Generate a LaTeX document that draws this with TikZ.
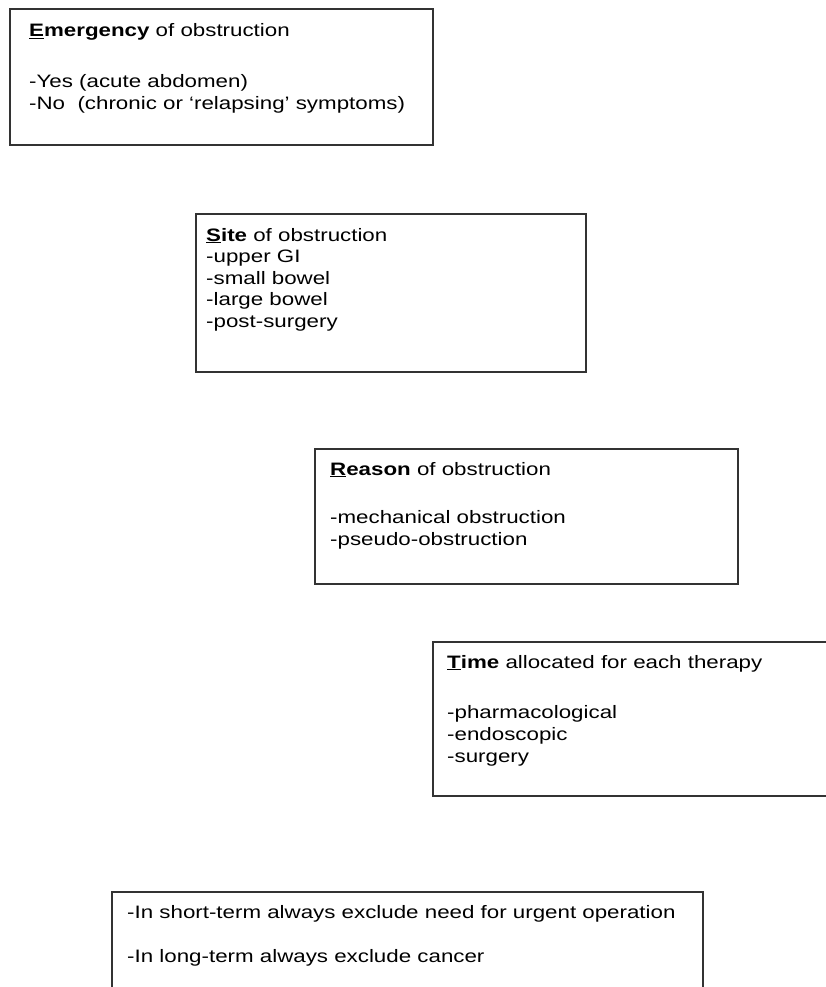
\documentclass[tikz,border=0pt]{standalone}
\usepackage{fontspec}
\setmainfont[FakeStretch=1.24]{Liberation Sans}
\usepackage{tikz}

\begin{document}
\begin{tikzpicture}[x=1pt, y=1pt,
  box/.style={draw=black!80, line width=1.2pt},
  txt/.style={anchor=base west, align=left, inner sep=0pt,
    font=\fontsize{18}{22}\selectfont}]
  \useasboundingbox (0,0) rectangle (826,-987);
  % emergency
  \draw[box] (10,-9) rectangle (433,-145);
  \node[txt] (emerg) at (29,-110) {\underline{\textbf{E}}\textbf{mergency} of obstruction\\[29pt]
    -Yes (acute abdomen)\\
    -No\ \ (chronic or `relapsing' symptoms)};
  % site
  \draw[box] (196,-214) rectangle (586,-372);
  \node[txt, font=\fontsize{18}{21.5}\selectfont] (site) at (206,-327) {\underline{\textbf{S}}\textbf{ite} of obstruction\\
    -upper GI\\
    -small bowel\\
    -large bowel\\
    -post-surgery};
  % reason
  \draw[box] (315,-449) rectangle (738,-584);
  \node[txt] (reason) at (330,-545) {\underline{\textbf{R}}\textbf{eason} of obstruction\\[26pt]
    -mechanical obstruction\\
    -pseudo-obstruction};
  % time
  \draw[box] (433,-642) rectangle (840,-796);
  \node[txt] (time) at (447,-762) {\underline{\textbf{T}}\textbf{ime} allocated for each therapy\\[28pt]
    -pharmacological\\
    -endoscopic\\
    -surgery};
  % always exclude
  \draw[box] (112,-892) rectangle (703,-1000);
  \node[txt] (excl) at (127,-962) {-In short-term always exclude need for urgent operation\\[22pt]
    -In long-term always exclude cancer};
\end{tikzpicture}
\end{document}
